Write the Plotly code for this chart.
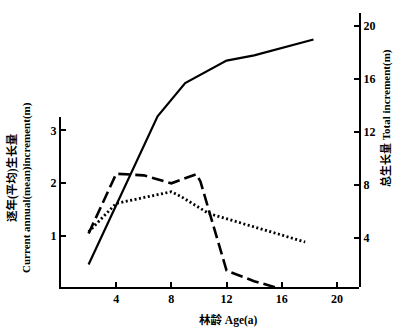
import plotly.graph_objects as go

# Total increment (right axis, m)
age_total = [2, 7, 9, 12, 14, 18.3]
total_inc = [2.0, 13.2, 15.7, 17.4, 17.8, 19.0]

# Current annual increment (left axis, m) - dashed
age_current = [2, 4, 6, 8, 9.8, 10.1, 12, 14, 16]
current_inc = [1.05, 2.18, 2.15, 2.0, 2.17, 2.04, 0.35, 0.15, 0.0]

# Mean annual increment (left axis, m) - dotted
age_mean = [2, 4, 8, 8.7, 10.7, 17.7]
mean_inc = [1.08, 1.62, 1.84, 1.75, 1.43, 0.89]

x_ticks = [4, 8, 12, 16, 20]
left_ticks = [1, 2, 3]
right_ticks = [4, 8, 12, 16, 20]

serif = "Liberation Serif, Noto Sans CJK SC, serif"

fig = go.Figure()
fig.add_trace(go.Scatter(x=age_total, y=total_inc, mode="lines", xaxis="x", yaxis="y2",
                         line=dict(color="black", width=2.2)))
fig.add_trace(go.Scatter(x=age_current, y=current_inc, mode="lines", xaxis="x", yaxis="y",
                         line=dict(color="black", width=2.6, dash="12px,5px")))
fig.add_trace(go.Scatter(x=age_mean, y=mean_inc, mode="lines", xaxis="x", yaxis="y",
                         line=dict(color="black", width=2.8, dash="2px,2.5px")))

axis_common = dict(ticks="inside", ticklen=5, tickwidth=1.5, tickcolor="black",
                   showline=True, linecolor="black", linewidth=2, showgrid=False,
                   zeroline=False, automargin=False,
                   tickfont=dict(family=serif, size=12, color="black", weight="bold"))

fig.update_layout(
    width=407, height=333,
    margin=dict(l=61, r=48, t=13, b=46),
    paper_bgcolor="white", plot_bgcolor="rgba(0,0,0,0)",
    showlegend=False,
    font=dict(family=serif, color="black", size=12),
    xaxis=dict(range=[0, 21.6], domain=[0, 1], anchor="y", tickvals=x_ticks, **axis_common),
    yaxis=dict(range=[0.04, 3.25], domain=[0, 0.62], anchor="x", tickvals=left_ticks, **axis_common),
    yaxis2=dict(range=[0.3, 21.0], domain=[0, 1], anchor="x", side="right",
                tickvals=right_ticks, **axis_common),
    annotations=[
        dict(text="<b>逐年(平均)生长量</b>", xref="paper", yref="paper",
             x=(12 - 61) / 298, y=(287 - 177) / 274, textangle=-90, showarrow=False,
             xanchor="center", yanchor="middle", font=dict(family=serif, size=11.5, color="black")),
        dict(text="<b>Current annual(mean)increment(m)</b>", xref="paper", yref="paper",
             x=(27 - 61) / 298, y=(287 - 188) / 274, textangle=-90, showarrow=False,
             xanchor="center", yanchor="middle", font=dict(family=serif, size=11, color="black")),
        dict(text="<b>总生长量 Total increment(m)</b>", xref="paper", yref="paper",
             x=(386 - 61) / 298, y=(287 - 118) / 274, textangle=-90, showarrow=False,
             xanchor="center", yanchor="middle", font=dict(family=serif, size=11, color="black")),
        dict(text="<b>林龄 Age(a)</b>", xref="paper", yref="paper",
             x=(228 - 61) / 298, y=(287 - 320) / 274, showarrow=False,
             xanchor="center", yanchor="middle", font=dict(family=serif, size=11.5, color="black")),
    ],
)

fig.write_html("out.html", config={"displayModeBar": False},
               post_script="document.body.style.margin='0';")
